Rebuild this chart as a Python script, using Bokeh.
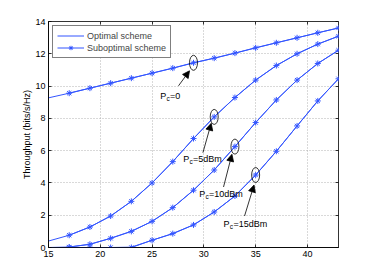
from bokeh.plotting import figure
from bokeh.models import (Range1d, FixedTicker, LinearAxis, Legend, LegendItem,
                          Label, Arrow, NormalHead, CustomJSTickFormatter)
from bokeh.embed import file_html
from bokeh.resources import INLINE

# ---------------- data ----------------
ps_opt = [15, 17, 19, 21, 23, 25, 27, 29, 31, 33, 35, 37, 39, 41, 43]
ps_sub = [17, 19, 21, 23, 25, 27, 29, 31, 33, 35, 37, 39, 41, 43]

opt_pc0 = [9.27, 9.56, 9.87, 10.18, 10.49, 10.80, 11.11, 11.44, 11.73, 12.04, 12.37, 12.68, 12.99, 13.30, 13.60]
opt_pc5 = [0.40, 0.76, 1.27, 1.95, 2.86, 4.00, 5.32, 6.75, 8.09, 9.29, 10.37, 11.27, 12.00, 12.60, 13.09]
opt_pc10 = [0.00, 0.03, 0.20, 0.57, 1.00, 1.62, 2.47, 3.55, 4.80, 6.25, 7.74, 9.14, 10.37, 11.40, 12.22]
opt_pc15 = [0.00, 0.00, 0.00, 0.00, 0.02, 0.45, 0.86, 1.40, 2.20, 3.19, 4.49, 5.96, 7.53, 9.08, 10.45]

sub_pc0 = [9.56, 9.87, 10.18, 10.49, 10.80, 11.11, 11.44, 11.73, 12.04, 12.37, 12.68, 12.99, 13.30, 13.60]
sub_pc5 = [0.76, 1.27, 1.95, 2.86, 4.00, 5.32, 6.75, 8.09, 9.29, 10.37, 11.27, 12.00, 12.60, 13.09]
sub_pc10 = [0.03, 0.20, 0.57, 1.00, 1.62, 2.47, 3.55, 4.80, 6.25, 7.74, 9.14, 10.37, 11.40, 12.22]
sub_pc15 = [0.00, 0.00, 0.00, 0.00, 0.45, 0.86, 1.40, 2.20, 3.19, 4.49, 5.96, 7.53, 9.08, 10.45]

x_ticks = [15, 20, 25, 30, 35, 40]
y_ticks = [0, 2, 4, 6, 8, 10, 12, 14]

# annotated points
ann_x = [29, 31, 33, 35]
ann_y = [11.44, 8.09, 6.25, 4.49]
ann_rest = ["=0", "=5dBm", "=10dBm", "=15dBm"]

# ---------------- styling / layout ----------------
FONT = "Liberation Sans"
BLUE = "#3355ff"
X0, X1, Y0, Y1 = 15, 43, 0, 14
FW, FH = 290, 226
SX = FW / (X1 - X0)
SY = FH / (Y1 - Y0)

p = figure(width=372, height=275, output_backend="svg", toolbar_location=None,
           x_range=Range1d(X0, X1), y_range=Range1d(Y0, Y1),
           min_border_left=48, min_border_right=34, min_border_top=21,
           min_border_bottom=28, background_fill_color="white",
           border_fill_color="white")
p.outline_line_color = "black"
p.outline_line_width = 0.8

xt = FixedTicker(ticks=x_ticks)
yt = FixedTicker(ticks=y_ticks)
p.xaxis.ticker = xt
p.yaxis.ticker = yt
p.xgrid.ticker = xt
p.ygrid.ticker = yt
for g in (p.xgrid, p.ygrid):
    g.grid_line_color = "#a0a0a0"
    g.grid_line_dash = "1 2"
    g.grid_line_width = 0.8

for ax in (p.xaxis, p.yaxis):
    ax.major_tick_in = 3
    ax.major_tick_out = 0
    ax.minor_tick_line_color = None
    ax.axis_line_color = "black"
    ax.axis_line_width = 0.8
    ax.major_tick_line_color = "black"
    ax.major_tick_line_width = 0.8
    ax.major_label_text_font = FONT
    ax.major_label_text_font_size = "9px"
    ax.major_label_text_color = "black"
    ax.major_label_standoff = 3

p.yaxis.axis_label = "Throughput (bits/s/Hz)"
p.yaxis.axis_label_text_font = FONT
p.yaxis.axis_label_text_font_size = "9px"
p.yaxis.axis_label_text_font_style = "normal"
p.yaxis.axis_label_text_color = "black"
p.yaxis.axis_label_standoff = 0

blank = CustomJSTickFormatter(code="return ''")
top = LinearAxis(ticker=xt, formatter=blank, major_tick_in=3, major_tick_out=0,
                 minor_tick_line_color=None, axis_line_color=None,
                 major_label_standoff=0, major_tick_line_width=0.8)
right = LinearAxis(ticker=yt, formatter=blank, major_tick_in=3, major_tick_out=0,
                   minor_tick_line_color=None, axis_line_color=None,
                   major_label_standoff=0, major_tick_line_width=0.8)
p.add_layout(top, "above")
p.add_layout(right, "right")

# ---------------- curves ----------------
opt_series = [opt_pc0, opt_pc5, opt_pc10, opt_pc15]
sub_series = [sub_pc0, sub_pc5, sub_pc10, sub_pc15]
opt_r = []
sub_l = []
sub_m = []
for ys in opt_series:
    opt_r.append(p.line(ps_opt, ys, line_color=BLUE, line_width=1))
for ys in sub_series:
    sub_l.append(p.line(ps_sub, ys, line_color=BLUE, line_width=1))
    sub_m.append(p.scatter(ps_sub, ys, marker="asterisk", size=6,
                           line_color=BLUE, line_width=1))

legend = Legend(items=[
    LegendItem(label="Optimal scheme", renderers=[opt_r[0]]),
    LegendItem(label="Suboptimal scheme", renderers=[sub_l[0], sub_m[0]]),
], location="top_left", margin=4, padding=4, spacing=1,
    glyph_width=27, glyph_height=11, label_height=11, label_standoff=3,
    label_text_font=FONT, label_text_font_size="9px",
    border_line_color="black", border_line_width=0.8,
    background_fill_color="white", background_fill_alpha=1)
p.add_layout(legend)

# ---------------- annotations ----------------
# pixel offsets (right, down) from each annotated point
arrow_start = [(-15.0, 23.0), (-11.3, 35.8), (-11.4, 40.4), (-11.1, 41.0)]
arrow_end = [(-4.0, 8.0), (-3.0, 6.4), (-3.0, 7.7), (-1.6, 10.0)]
text_pos = [(-33.3, 33.0), (-31.0, 42.4), (-35.7, 47.1), (-32.1, 49.3)]

p.ellipse(x=ann_x, y=ann_y, width=8, height=15, width_units="screen",
          height_units="screen", fill_color=None, line_color="black",
          line_width=0.8)


def sub_label(x, y, dx, dy, main, sub, rest, size=9):
    subsize = size * 0.72
    wmain = size * 0.667
    wsub = subsize * 0.5
    p.add_layout(Label(x=x, y=y, x_offset=dx, y_offset=-dy, text=main,
                       text_font=FONT, text_font_size=f"{size}px",
                       text_color="black", text_align="left",
                       text_baseline="alphabetic"))
    p.add_layout(Label(x=x, y=y, x_offset=dx + wmain + 0.3, y_offset=-(dy + 2.5),
                       text=sub, text_font=FONT, text_font_size=f"{subsize:.1f}px",
                       text_color="black", text_align="left",
                       text_baseline="alphabetic"))
    p.add_layout(Label(x=x, y=y, x_offset=dx + wmain + wsub + 0.6, y_offset=-dy,
                       text=rest, text_font=FONT, text_font_size=f"{size}px",
                       text_color="black", text_align="left",
                       text_baseline="alphabetic"))


for i in range(len(ann_x)):
    x, y = ann_x[i], ann_y[i]
    (sdx, sdy), (edx, edy) = arrow_start[i], arrow_end[i]
    p.add_layout(Arrow(x_start=x + sdx / SX, y_start=y - sdy / SY,
                       x_end=x + edx / SX, y_end=y - edy / SY,
                       line_color="black", line_width=0.8,
                       end=NormalHead(size=7, fill_color="black",
                                      line_color="black", line_width=0.8)))
    tdx, tdy = text_pos[i]
    sub_label(x, y, tdx, tdy, "P", "c", ann_rest[i])

# x axis label  "P_s (dBm)" placed below the frame
sub_label(X0, Y0, 127.7, 20.5, "P", "s", " (dBm)")

open("out.html", "w").write(file_html(p, INLINE))
